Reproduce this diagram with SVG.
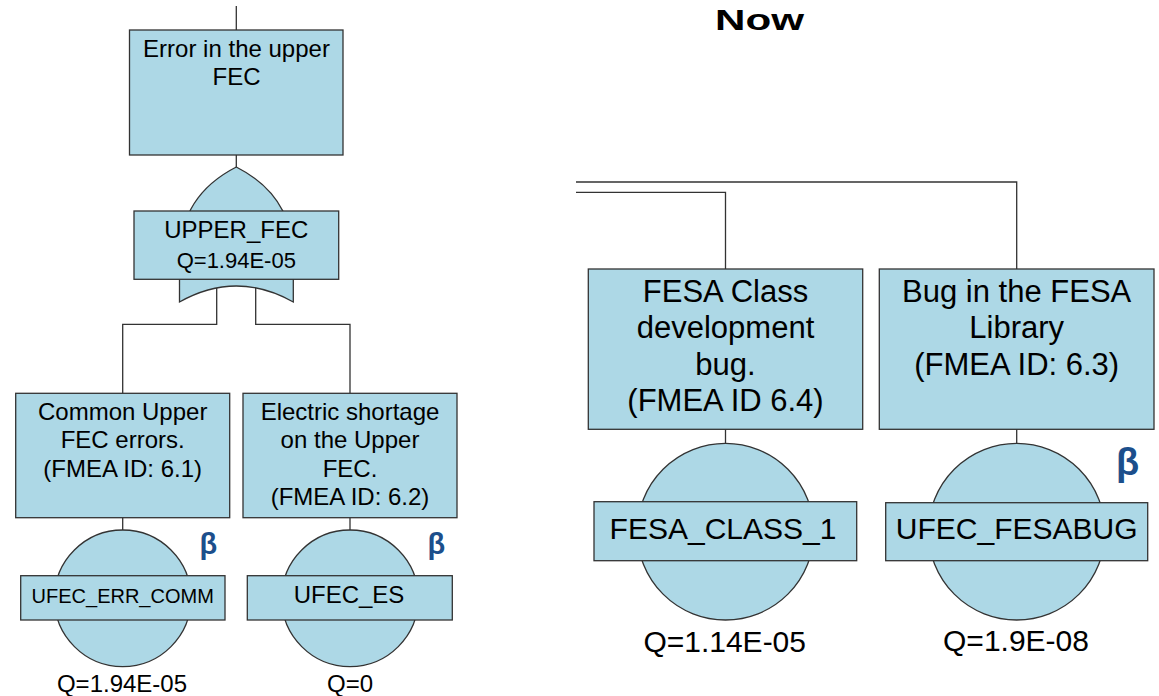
<svg xmlns="http://www.w3.org/2000/svg" width="1159" height="696" viewBox="0 0 1159 696">
<style>
.box{fill:#add8e6;stroke:#333;stroke-width:1.3}
.ln{fill:none;stroke:#333;stroke-width:1.3}
.t{font-family:"Liberation Sans",Arial,sans-serif;fill:#000;text-anchor:middle}
.s24{font-size:24px}
.s22{font-size:22px}
.s20{font-size:20px}
.s30{font-size:30px}
.s31{font-size:31px}
.beta{font-family:"Liberation Sans",Arial,sans-serif;font-weight:bold;fill:#1c4f8c;text-anchor:middle}
.title{font-family:"Liberation Sans",Arial,sans-serif;font-weight:bold;font-size:30px;fill:#000}
</style>
<rect width="1159" height="696" fill="#fff"/>
<text class="title" x="715" y="29.5" textLength="89" lengthAdjust="spacingAndGlyphs">Now</text>
<g id="connectors">
<path class="ln" d="M236.3,6 V30"/>
<path class="ln" d="M236.3,155 V168"/>
<path class="ln" d="M216.7,288 V324.3 H122.7 V393.3"/>
<path class="ln" d="M255.7,288 V324.3 H350 V393.3"/>
<path class="ln" d="M122.7,517.7 V530"/>
<path class="ln" d="M350,517.7 V530"/>
<path class="ln" d="M576,182 H1016.7 V269"/>
<path class="ln" d="M576,192.3 H725.5 V269"/>
<path class="ln" d="M725.5,429.3 V443.3"/>
<path class="ln" d="M1016.7,429.3 V443.3"/>
</g>
<g id="top_event">
<rect class="box" x="129.5" y="30" width="213.5" height="125"/>
<text class="t s24" x="236.5" y="57.3">Error in the upper</text>
<text class="t s24" x="236.5" y="85">FEC</text>
</g>
<g id="gate_upper_fec">
<path class="box" d="M179.5,302 L179.5,258 Q179.5,196 236.3,167 Q293.3,196 293.3,258 L293.3,302 Q236.3,270 179.5,302 Z"/>
<rect class="box" x="134" y="211" width="204.7" height="68.3"/>
<text class="t s24" x="236.3" y="238.3">UPPER_FEC</text>
<text class="t s22" x="236.3" y="268.3">Q=1.94E-05</text>
</g>
<g id="event_common">
<rect class="box" x="15.7" y="393.3" width="214" height="124.4"/>
<text class="t s24" x="122.7" y="420">Common Upper</text>
<text class="t s24" x="122.7" y="448.3">FEC errors.</text>
<text class="t s24" x="122.7" y="476.7">(FMEA ID: 6.1)</text>
</g>
<g id="basic_ufec_err_comm">
<circle class="box" cx="122.7" cy="598.3" r="68.3"/>
<rect class="box" x="20.7" y="575.7" width="204.3" height="44.3"/>
<text class="t s20" x="122.7" y="603.3">UFEC_ERR_COMM</text>
<text class="beta" font-size="29" x="208.3" y="553.5">β</text>
<text class="t s24" x="122" y="692">Q=1.94E-05</text>
</g>
<g id="event_electric">
<rect class="box" x="243" y="393.3" width="214" height="124.4"/>
<text class="t s24" x="350" y="420">Electric shortage</text>
<text class="t s24" x="350" y="448.3">on the Upper</text>
<text class="t s24" x="350" y="476.5">FEC.</text>
<text class="t s24" x="350" y="505">(FMEA ID: 6.2)</text>
</g>
<g id="basic_ufec_es">
<circle class="box" cx="350" cy="598.3" r="68.3"/>
<rect class="box" x="247.3" y="575.7" width="205" height="44.3"/>
<text class="t s24" x="349" y="602.7">UFEC_ES</text>
<text class="beta" font-size="29" x="436.3" y="553.5">β</text>
<text class="t s24" x="350" y="692">Q=0</text>
</g>
<g id="event_fesa_class">
<rect class="box" x="588.3" y="269" width="274.4" height="160.3"/>
<text class="t s31" x="725.5" y="301.7">FESA Class</text>
<text class="t s31" x="725.5" y="338.3">development</text>
<text class="t s31" x="725.5" y="375">bug.</text>
<text class="t s31" x="725.5" y="410.5">(FMEA ID 6.4)</text>
</g>
<g id="basic_fesa_class_1">
<circle class="box" cx="725.5" cy="531.7" r="88.3"/>
<rect class="box" x="594" y="501.7" width="262.7" height="59"/>
<text class="t s30" x="723" y="539">FESA_CLASS_1</text>
<text class="t s30" x="724.7" y="651.7">Q=1.14E-05</text>
</g>
<g id="event_fesa_library">
<rect class="box" x="879.3" y="269" width="274.7" height="160.3"/>
<text class="t s31" x="1016.7" y="301.7">Bug in the FESA</text>
<text class="t s31" x="1016.7" y="338.3">Library</text>
<text class="t s31" x="1016.7" y="375">(FMEA ID: 6.3)</text>
</g>
<g id="basic_ufec_fesabug">
<circle class="box" cx="1016.7" cy="531.7" r="88.3"/>
<rect class="box" x="885.7" y="502.7" width="262" height="58"/>
<text class="t s30" x="1016.7" y="539.3">UFEC_FESABUG</text>
<text class="beta" font-size="38" x="1127.5" y="475">β</text>
<text class="t s30" x="1016" y="650.7">Q=1.9E-08</text>
</g>
</svg>
